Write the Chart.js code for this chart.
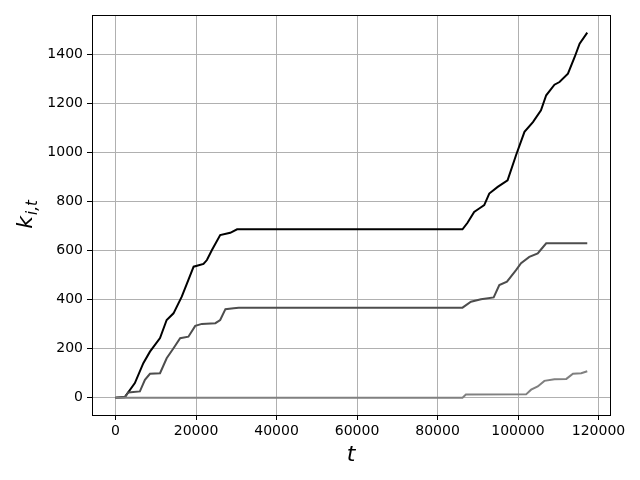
<!DOCTYPE html>
<html>
<head>
<meta charset="utf-8">
<script src="https://cdn.jsdelivr.net/npm/chart.js@4/dist/chart.umd.min.js"></script>
<style>
  html, body { margin: 0; padding: 0; background: #fff; }
  #wrap { width: 640px; height: 480px; }
</style>
</head>
<body>
<div id="wrap"><canvas id="myChart" width="640" height="480"></canvas></div>
<script>
// series (t, k)
var tBlack = [0, 2300, 4800, 6900, 8550, 11050, 12700, 14400, 16450, 18100, 19400, 21850, 22700, 23950, 26000, 28500, 30200,
  86200, 87450, 89100, 90350, 91600, 92850, 94950, 97400, 99500, 101600, 103700, 105700, 107000, 109050, 110300, 112400, 114050, 115300, 117200];
var kBlack = [0, 3, 60, 141, 188, 243, 317, 344, 412, 480, 534, 545, 561, 602, 663, 672, 686,
  686, 713, 757, 771, 785, 832, 859, 886, 988, 1083, 1123, 1171, 1232, 1275, 1286, 1320, 1387, 1442, 1487];

var tDark = [0, 2300, 3150, 6050, 7300, 8550, 11050, 12700, 14400, 16050, 18100, 19800, 21450, 24800, 26000, 27300, 29350, 30600,
  86200, 88300, 90800, 93950, 95350, 97250, 99500, 100750, 102800, 104900, 105700, 107000, 117200];
var kDark = [0, 2, 22, 26, 73, 98, 100, 161, 202, 243, 249, 293, 301, 304, 317, 361, 365, 367,
  367, 391, 401, 409, 459, 473, 520, 548, 574, 588, 604, 629, 629];

var tLight = [0, 86200, 87050, 102000, 103250, 104900, 106550, 109050, 112000, 113650, 115700, 117200];
var kLight = [0, 0, 13, 14, 33, 46, 69, 76, 77, 98, 100, 108];

var xTicks = [0, 20000, 40000, 60000, 80000, 100000, 120000];
var yTicks = [0, 200, 400, 600, 800, 1000, 1200, 1400];

function pts(t, k) {
	var out = [];
	for (var i = 0; i < t.length; i++) out.push({ x: t[i], y: k[i] });
	return out;
}

// frame + axis labels like matplotlib
var framePlugin = {
	id: 'frame',
	afterDraw: function(chart) {
		var ctx = chart.ctx, a = chart.chartArea;
		ctx.save();
		ctx.strokeStyle = '#000';
		ctx.lineWidth = 1;
		ctx.strokeRect(Math.round(a.left) + 0.5, Math.round(a.top) + 0.5, Math.round(a.right - a.left), Math.round(a.bottom - a.top));

		// x label
		ctx.fillStyle = '#000';
		ctx.textAlign = 'center';
		ctx.textBaseline = 'alphabetic';
		ctx.font = 'italic 22px "DejaVu Sans"';
		ctx.fillText('t', (a.left + a.right) / 2, 461);

		// y label k_{i,t}
		ctx.translate(32, (a.top + a.bottom) / 2);
		ctx.rotate(-Math.PI / 2);
		ctx.font = 'italic 22px "DejaVu Sans"';
		var wk = ctx.measureText('k').width;
		ctx.font = 'italic 15px "DejaVu Sans"';
		var ws = ctx.measureText('i,t').width;
		var x0 = -(wk + ws) / 2;
		ctx.textAlign = 'left';
		ctx.font = 'italic 22px "DejaVu Sans"';
		ctx.fillText('k', x0, 0);
		ctx.font = 'italic 15px "DejaVu Sans"';
		ctx.fillText('i,t', x0 + wk + 1, 5);
		ctx.restore();
	}
};

var ctx = document.getElementById('myChart').getContext('2d');
var myChart = new Chart(ctx, {
	type: 'line',
	data: {
		datasets: [{
			data: pts(tBlack, kBlack),
			borderColor: '#000000',
			borderWidth: 2,
			order: 2
		}, {
			data: pts(tDark, kDark),
			borderColor: '#4d4d4d',
			borderWidth: 2,
			order: 1
		}, {
			data: pts(tLight, kLight),
			borderColor: '#808080',
			borderWidth: 2,
			order: 0
		}]
	},
	options: {
		responsive: false,
		animation: false,
		devicePixelRatio: 1,
		layout: { padding: { left: 0, top: 15, right: 30, bottom: 0 } },
		elements: {
			point: { radius: 0 },
			line: { tension: 0, fill: false }
		},
		plugins: {
			legend: { display: false },
			tooltip: { enabled: false }
		},
		scales: {
			x: {
				type: 'linear',
				min: -5850,
				max: 122850,
				afterBuildTicks: function(scale) {
					scale.ticks = xTicks.map(function(v) { return { value: v }; });
				},
				afterFit: function(scale) { scale.height = 65; },
				grid: { color: '#b0b0b0', lineWidth: 1, tickColor: '#000', tickLength: 5 },
				border: { display: false },
				ticks: {
					color: '#000',
					font: { family: 'DejaVu Sans', size: 14 },
					padding: 3,
					maxRotation: 0,
					callback: function(v) { return String(v); }
				}
			},
			y: {
				type: 'linear',
				min: -70,
				max: 1559,
				afterBuildTicks: function(scale) {
					scale.ticks = yTicks.map(function(v) { return { value: v }; });
				},
				afterFit: function(scale) { scale.width = 92; },
				grid: { color: '#b0b0b0', lineWidth: 1, tickColor: '#000', tickLength: 5 },
				border: { display: false },
				ticks: {
					color: '#000',
					font: { family: 'DejaVu Sans', size: 14 },
					padding: 4,
					callback: function(v) { return String(v); }
				}
			}
		}
	},
	plugins: [framePlugin]
});
</script>
</body>
</html>
